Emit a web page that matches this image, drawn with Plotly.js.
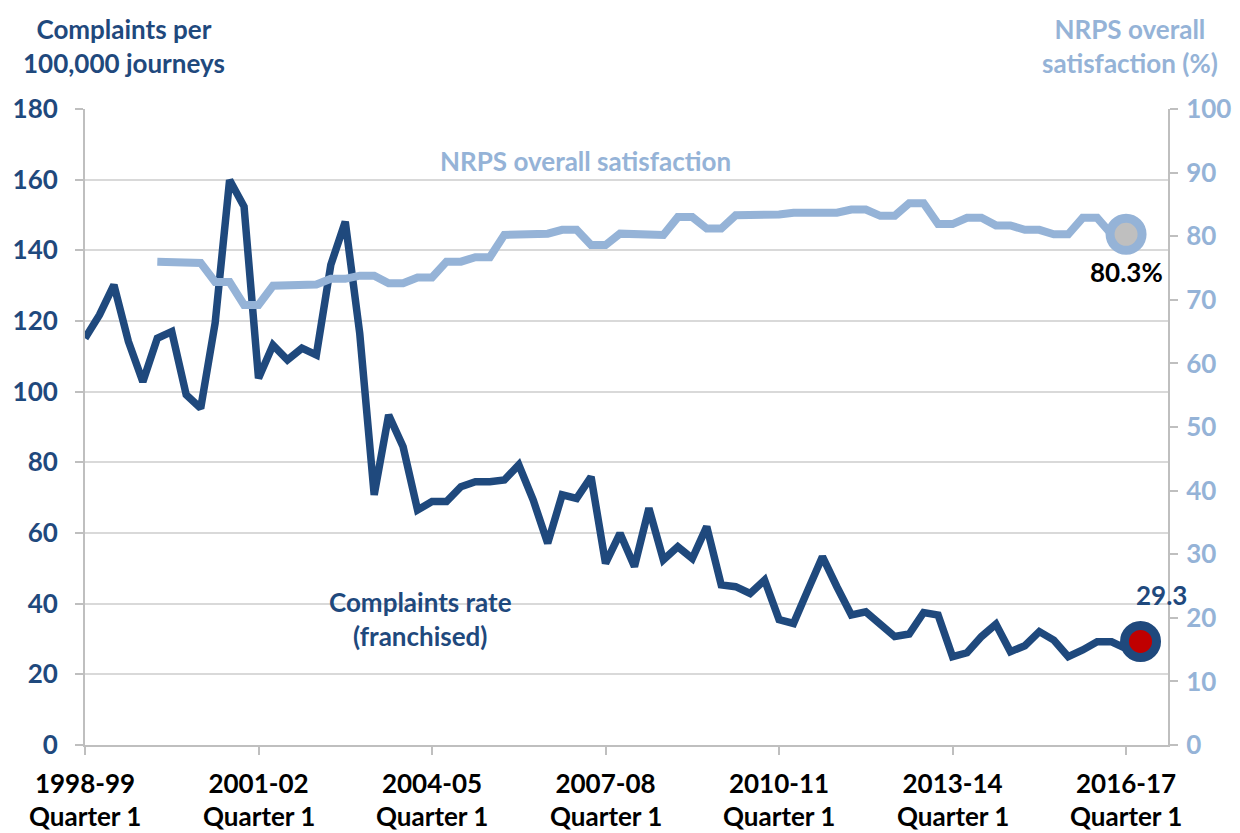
<!DOCTYPE html>
<html>
<head>
<meta charset="utf-8">
<script src="https://cdn.plot.ly/plotly-3.0.1.min.js"></script>
<style>html,body{margin:0;padding:0;background:#fff;}#chart{width:1240px;height:833px;}</style>
</head>
<body>
<div id="chart"></div>
<script>
// Quarter index 0 = 1998-99 Quarter 1
const complaintsQuarter = Array.from({length: 74}, (_, i) => i);
const complaintsRate = [115.1, 121.7, 130.2, 114.2, 102.8, 115.1, 117.0, 99.1, 95.3, 119.4,
  159.9, 152.4, 103.8, 113.2, 109.0, 112.3, 110.4, 135.9, 148.1, 116.5,
  70.8, 93.4, 84.4, 66.5, 68.9, 68.9, 73.1, 74.5, 74.5, 75.0,
  79.3, 69.3, 57.1, 70.8, 69.8, 75.9, 51.4, 59.9, 50.5, 67.0,
  52.4, 56.1, 52.8, 61.8, 45.3, 44.8, 42.9, 46.7, 35.5, 34.4,
  43.9, 53.3, 44.8, 36.8, 37.7, 34.0, 30.7, 31.4, 37.5, 36.8,
  25.0, 26.1, 30.7, 34.2, 26.4, 28.1, 32.1, 29.7, 25.0, 26.9,
  29.2, 29.2, 27.3, 29.3];

const nrpsQuarter = Array.from({length: 68}, (_, i) => i + 5);
const nrpsSatisfaction = [76.0, 76.0, 75.8, 75.8, 72.8, 72.8, 69.2, 69.2, 72.2, 72.2,
  72.4, 72.4, 73.3, 73.3, 73.8, 73.8, 72.6, 72.6, 73.5, 73.5,
  76.0, 76.0, 76.7, 76.7, 80.2, 80.2, 80.4, 80.4, 81.0, 81.0,
  78.6, 78.6, 80.4, 80.4, 80.2, 80.2, 83.0, 83.0, 81.2, 81.2,
  83.3, 83.3, 83.4, 83.4, 83.7, 83.7, 83.7, 83.7, 84.2, 84.2,
  83.2, 83.2, 85.2, 85.2, 81.9, 81.9, 82.9, 82.9, 81.7, 81.7,
  81.0, 81.0, 80.3, 80.3, 82.9, 82.9, 80.3, 80.3];

const tickQuarters = [0, 12, 24, 36, 48, 60, 72];
const tickYears = ["1998-99", "2001-02", "2004-05", "2007-08", "2010-11", "2013-14", "2016-17"];
const tickQuarterText = ["Quarter 1", "Quarter 1", "Quarter 1", "Quarter 1", "Quarter 1", "Quarter 1", "Quarter 1"];

const DARK = '#1F497D', LIGHT = '#95B3D7', GRID = '#D9D9D9', AXIS = '#BFBFBF';
const FONT = 'Lato, "Open Sans", sans-serif';
const FS = 25;
const FA = 26;

const lastC = complaintsQuarter.length - 1;
const lastN = nrpsQuarter.length - 1;

const traces = [
  {x: nrpsQuarter, y: nrpsSatisfaction, yaxis: 'y2', type: 'scatter', mode: 'lines',
   line: {color: LIGHT, width: 8}, hoverinfo: 'skip'},
  {x: complaintsQuarter, y: complaintsRate, yaxis: 'y', type: 'scatter', mode: 'lines',
   line: {color: DARK, width: 7.5}, hoverinfo: 'skip'},
  {x: [nrpsQuarter[lastN]], y: [nrpsSatisfaction[lastN]], yaxis: 'y2', type: 'scatter', mode: 'markers',
   marker: {size: 32, color: '#BFBFBF', line: {color: LIGHT, width: 9}}, hoverinfo: 'skip'},
  {x: [complaintsQuarter[lastC]], y: [complaintsRate[lastC]], yaxis: 'y', type: 'scatter', mode: 'markers',
   marker: {size: 32, color: '#C00000', line: {color: DARK, width: 9}}, hoverinfo: 'skip'}
];

const annotations = [
  {xref: 'paper', yref: 'paper', x: (124 - 85) / 1083, y: 1 + (109 - 46) / 636, text: 'Complaints per<br>100,000 journeys',
   showarrow: false, xanchor: 'center', yanchor: 'middle', font: {family: FONT, size: FA, color: DARK, weight: 'bold'}},
  {xref: 'paper', yref: 'paper', x: (1130 - 85) / 1083, y: 1 + (109 - 46) / 636, text: 'NRPS overall<br>satisfaction (%)',
   showarrow: false, xanchor: 'center', yanchor: 'middle', font: {family: FONT, size: FA, color: LIGHT, weight: 'bold'}},
  {xref: 'paper', yref: 'paper', x: (585 - 85) / 1083, y: (745 - 161) / 636, text: 'NRPS overall satisfaction',
   showarrow: false, xanchor: 'center', yanchor: 'middle', font: {family: FONT, size: FA, color: LIGHT, weight: 'bold'}},
  {xref: 'paper', yref: 'paper', x: (420 - 85) / 1083, y: (745 - 619) / 636, text: 'Complaints rate<br>(franchised)',
   showarrow: false, xanchor: 'center', yanchor: 'middle', font: {family: FONT, size: FA, color: DARK, weight: 'bold'}},
  {xref: 'x', yref: 'y2', x: nrpsQuarter[lastN], y: nrpsSatisfaction[lastN], yshift: -38,
   text: nrpsSatisfaction[lastN].toFixed(1) + '%', showarrow: false, xanchor: 'center', yanchor: 'middle',
   font: {family: FONT, size: FA, color: '#000000', weight: 'bold'}},
  {xref: 'x', yref: 'y', x: complaintsQuarter[lastC], y: complaintsRate[lastC], yshift: 46, xshift: 21,
   text: complaintsRate[lastC].toFixed(1), showarrow: false, xanchor: 'center', yanchor: 'middle',
   font: {family: FONT, size: FA, color: DARK, weight: 'bold'}}
];
tickQuarters.forEach((q, i) => {
  annotations.push({xref: 'x', yref: 'paper', x: q, y: -(816 - 745) / 636, text: tickQuarterText[i],
    showarrow: false, xanchor: 'center', yanchor: 'middle', font: {family: FONT, size: FA, color: '#000000', weight: 'bold'}});
});

const layout = {
  width: 1240, height: 833,
  margin: {l: 85, r: 72, t: 109, b: 88},
  paper_bgcolor: '#ffffff', plot_bgcolor: '#ffffff',
  showlegend: false,
  xaxis: {range: [0, 74.9], tickmode: 'array', tickvals: tickQuarters, ticktext: tickYears,
    showgrid: false, zeroline: false, showline: true, linecolor: AXIS, linewidth: 2,
    ticks: 'outside', ticklen: 8, tickcolor: AXIS, tickwidth: 2,
    tickfont: {family: FONT, size: FA, color: '#000000', weight: 'bold'}, ticklabelstandoff: 7},
  yaxis: {range: [0, 180], dtick: 20, showgrid: true, gridcolor: GRID, gridwidth: 2, zeroline: false,
    showline: true, linecolor: AXIS, linewidth: 2, ticks: 'outside', ticklen: 8, tickcolor: AXIS, tickwidth: 2,
    tickfont: {family: FONT, size: FA, color: DARK, weight: 'bold'}, ticklabelstandoff: 12},
  yaxis2: {range: [0, 100], dtick: 10, overlaying: 'y', side: 'right', showgrid: false, zeroline: false,
    showline: true, linecolor: AXIS, linewidth: 2, ticks: 'outside', ticklen: 8, tickcolor: AXIS, tickwidth: 2,
    tickfont: {family: FONT, size: FA, color: LIGHT, weight: 'bold'}, ticklabelstandoff: 3},
  annotations: annotations
};

Plotly.newPlot('chart', traces, layout, {staticPlot: true, displayModeBar: false});
</script>
</body>
</html>
